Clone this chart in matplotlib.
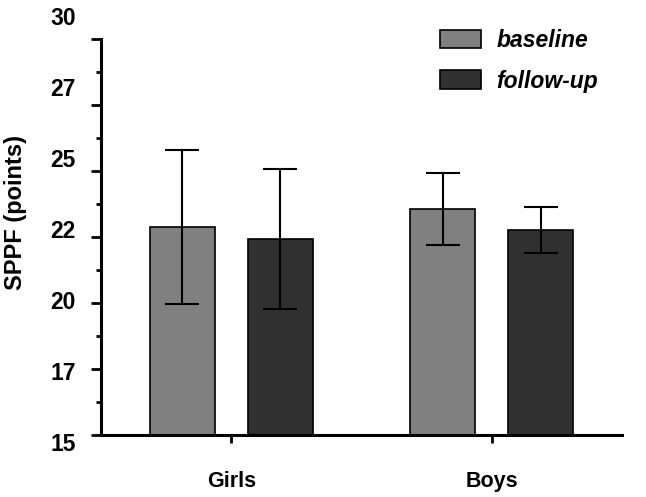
import numpy as np
import matplotlib
matplotlib.use('Agg')
import matplotlib.pyplot as plt
from matplotlib.ticker import MultipleLocator, FuncFormatter

plt.rcParams['font.family'] = ['Liberation Sans', 'DejaVu Sans']

groups = ['Girls', 'Boys']
series = ['baseline', 'follow-up']
baseline = [22.88, 23.56]
baseline_err = [2.92, 1.36]
followup = [22.42, 22.77]
followup_err = [2.64, 0.87]
colors = ['#808080', '#303030']

fig = plt.figure(figsize=(6.46, 4.97), dpi=100)
ax = fig.add_axes([0.1563, 0.1247, 0.8065, 0.7968])

x = np.arange(len(groups))
w = 0.25
off = 0.1875
err_kw = dict(ecolor='black', elinewidth=1.5, capsize=12.5, capthick=1.5)
ax.bar(x - off, baseline, w, yerr=baseline_err, color=colors[0], edgecolor='black',
       linewidth=1.2, label=series[0], error_kw=err_kw, zorder=2)
ax.bar(x + off, followup, w, yerr=followup_err, color=colors[1], edgecolor='black',
       linewidth=1.2, label=series[1], error_kw=err_kw, zorder=2)

ax.set_xlim(-0.5, 1.5)
ax.set_ylim(15, 30)
ax.yaxis.set_major_locator(MultipleLocator(2.5))
ax.yaxis.set_minor_locator(MultipleLocator(1.25))
ax.set_xticks(x)
ax.set_xticklabels(groups, fontsize=15.5, fontweight='bold')
ax.tick_params(axis='x', length=6, width=2, pad=20)
ax.tick_params(axis='y', which='major', length=7.5, width=2, labelleft=False)
ax.tick_params(axis='y', which='minor', length=3.8, width=2)

for s in ['top', 'right']:
    ax.spines[s].set_visible(False)
for s in ['left', 'bottom']:
    ax.spines[s].set_linewidth(2.2)

# the tick labels in the original sit on a slightly taller scale than the ticks
lab_ax = fig.add_axes([0.1563, 0.1107, 0.8065, 0.857])
lab_ax.set_ylim(15, 30)
lab_ax.yaxis.set_major_locator(MultipleLocator(2.5))
lab_ax.yaxis.set_major_formatter(FuncFormatter(lambda v, p: str(int(v))))
lab_ax.tick_params(axis='y', length=0, labelsize=16.5, pad=18)
lab_ax.tick_params(axis='x', bottom=False, labelbottom=False)
for lab in lab_ax.get_yticklabels():
    lab.set_fontweight('bold')
lab_ax.patch.set_visible(False)
for s in lab_ax.spines.values():
    s.set_visible(False)

ax.set_ylabel('SPPF (points)', fontsize=17, fontweight='bold')
ax.yaxis.set_label_coords(-0.142, 0.563)

leg = ax.legend(loc='upper left', bbox_to_anchor=(0.612, 1.078), frameon=False,
                prop=dict(size=16.5, weight='bold', style='italic'),
                handlelength=1.75, handleheight=0.87, labelspacing=0.78, handletextpad=0.7)

fig.savefig('out.png', dpi=100)
